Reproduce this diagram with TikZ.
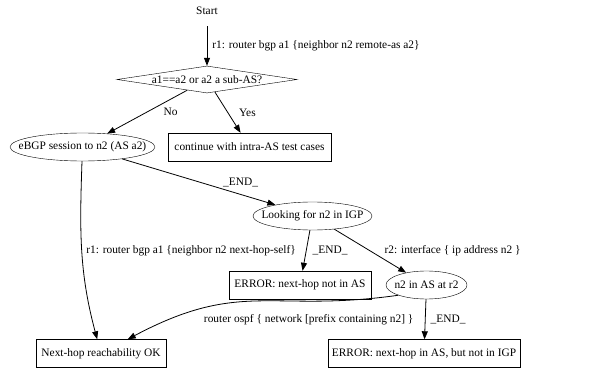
\documentclass[tikz,border=0pt]{standalone}
\usepackage{fontspec}
\setmainfont{Liberation Serif}
\usepackage{tikz}
\usetikzlibrary{shapes.geometric, arrows.meta, positioning}
\newcommand{\zw}[1]{\makebox[0pt]{#1}}

\begin{document}
\begin{tikzpicture}[x=1pt, y=1pt,
      font=\fontsize{11.4}{13}\selectfont,
      box/.style={rectangle, draw, inner sep=0pt, minimum height=28pt},
      ell/.style={ellipse, draw, inner sep=0pt, minimum height=28pt},
      dec/.style={diamond, draw, aspect=6.67, inner sep=0pt,
                  minimum width=180pt, minimum height=27pt},
      lbl/.style={inner sep=1pt},
      arr/.style={-{Triangle[length=8pt, width=6pt]}, line width=0.8pt}
    ]
      \useasboundingbox (0,0) rectangle (605,370);
      \node[minimum height=30pt, inner sep=0pt] (start) at (207,359) {Start};
      \node[dec] (test) at (207,290.5) {a1==a2 or a2 a sub-AS?};
      \node[ell, minimum width=145pt] (ebgp) at (82.5,223) {\zw{eBGP session to n2 (AS a2)}};
      \node[box, minimum width=163pt] (intra) at (249.5,223) {continue with intra-AS test cases};
      \node[ell, minimum width=119pt] (igp) at (312.5,154) {\zw{Looking for n2 in IGP}};
      \node[box, minimum width=142pt] (errnot) at (300,85) {ERROR: next-hop not in AS};
      \node[ell, minimum width=81pt] (inas) at (426.5,85) {\zw{n2 in AS at r2}};
      \node[box, minimum width=130pt] (ok) at (101,16.5) {Next-hop reachability OK};
      \node[box, minimum width=192pt] (errigp) at (424,16.5) {ERROR: next-hop in AS, but not in IGP};
      % edges
      \draw[arr] (start) -- node[lbl, right=4pt] {r1: router bgp a1 \{neighbor n2 remote-as a2\}} (test);
      \draw[arr] (test) -- node[lbl, right=15pt] {No} (ebgp);
      \draw[arr] (test) -- node[lbl, right=10pt] {Yes} (intra);
      \draw[arr] (ebgp) -- node[lbl, pos=0.65, anchor=south west] {\_END\_} (igp);
      \draw[arr] (ebgp) to[out=-92, in=105]
        node[lbl, right=3pt] {r1: router bgp a1 \{neighbor n2 next-hop-self\}} (ok);
      \draw[arr] (igp) -- node[lbl, right=5pt] {\_END\_} (errnot);
      \draw[arr] (igp) -- node[lbl, right=13pt] {r2: interface \{ ip address n2 \}} (inas);
      \draw[arr] (inas.200) to[out=188, in=28, looseness=1.2]
        node[lbl, pos=0.35, below=12pt, xshift=16pt] {router ospf \{ network [prefix containing n2] \}} (ok);
      \draw[arr] (inas) -- node[lbl, right=4pt] {\_END\_} (errigp);
    \end{tikzpicture}
\end{document}
